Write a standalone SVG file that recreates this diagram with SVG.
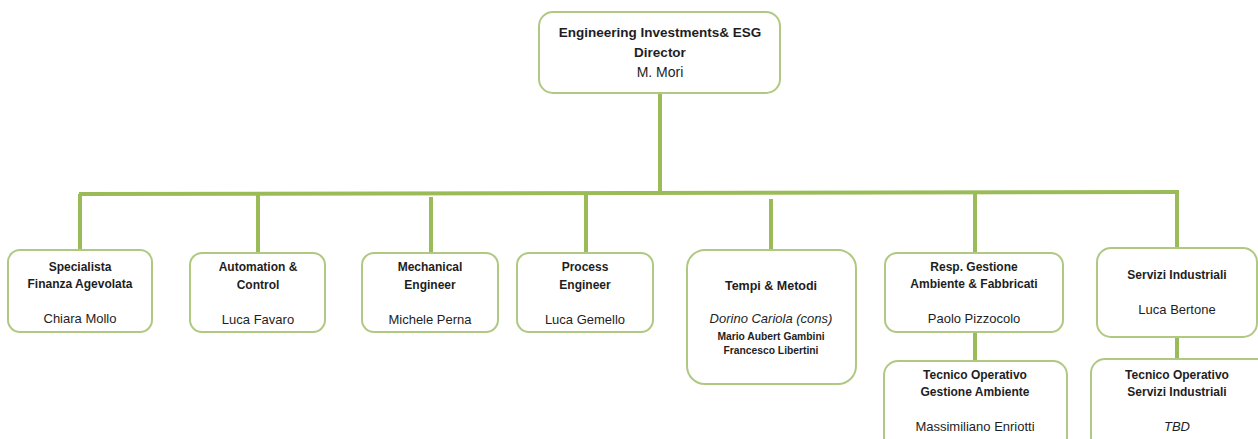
<svg xmlns="http://www.w3.org/2000/svg" width="1258" height="439" viewBox="0 0 1258 439">
<style>
.box{fill:#ffffff;stroke:#B0C982;stroke-width:2}
.ln{stroke:#9BBB59;stroke-width:4;fill:none}
text{font-family:"Liberation Sans",Arial,sans-serif;fill:#1e1e1e;text-anchor:middle}
.t{font-size:12px;font-weight:bold}
.n{font-size:13px}
.top{font-size:13.5px;font-weight:bold}
.s{font-size:10.3px;font-weight:bold}
.i{font-style:italic}
</style>
<rect width="1258" height="439" fill="#ffffff"/>
<g id="connectors">
<line class="ln" x1="660" y1="93" x2="660" y2="193"/>
<line class="ln" x1="79" y1="194" x2="1179" y2="192"/>
<line class="ln" x1="80" y1="194" x2="80" y2="251"/>
<line class="ln" x1="258" y1="194" x2="258" y2="253"/>
<line class="ln" x1="431" y1="197" x2="431" y2="253"/>
<line class="ln" x1="586" y1="194" x2="586" y2="253"/>
<line class="ln" x1="771" y1="199" x2="771" y2="251"/>
<line class="ln" x1="975" y1="193" x2="975" y2="253"/>
<line class="ln" x1="1177" y1="192" x2="1177" y2="248"/>
<line class="ln" x1="975" y1="332" x2="975" y2="361"/>
<line class="ln" x1="1177" y1="337" x2="1177" y2="359"/>
</g>
<g id="director">
<rect class="box" x="539" y="12" width="241" height="81" rx="14"/>
<text class="top" x="660" y="37">Engineering Investments&amp; ESG</text>
<text class="top" x="660" y="57">Director</text>
<text class="n" x="660" y="77" style="font-size:14px">M. Mori</text>
</g>
<g id="specialista">
<rect class="box" x="8" y="250" width="144" height="82" rx="12"/>
<text class="t" x="80" y="271">Specialista</text>
<text class="t" x="80" y="288">Finanza Agevolata</text>
<text class="n" x="80" y="323">Chiara Mollo</text>
</g>
<g id="automation">
<rect class="box" x="190" y="253" width="135" height="79" rx="12"/>
<text class="t" x="258" y="271">Automation &amp;</text>
<text class="t" x="258" y="289">Control</text>
<text class="n" x="258" y="324">Luca Favaro</text>
</g>
<g id="mechanical">
<rect class="box" x="362" y="253" width="136" height="79" rx="12"/>
<text class="t" x="430" y="271">Mechanical</text>
<text class="t" x="430" y="289">Engineer</text>
<text class="n" x="430" y="324">Michele Perna</text>
</g>
<g id="process">
<rect class="box" x="517" y="253" width="136" height="79" rx="12"/>
<text class="t" x="585" y="271">Process</text>
<text class="t" x="585" y="289">Engineer</text>
<text class="n" x="585" y="324">Luca Gemello</text>
</g>
<g id="tempi">
<rect class="box" x="687" y="250" width="169" height="134" rx="18"/>
<text class="t" x="771" y="290" style="font-size:12.5px">Tempi &amp; Metodi</text>
<text class="n i" x="771" y="323">Dorino Cariola (cons)</text>
<text class="s" x="771" y="340">Mario Aubert Gambini</text>
<text class="s" x="771" y="354">Francesco Libertini</text>
</g>
<g id="resp-gestione">
<rect class="box" x="885" y="253" width="178" height="79" rx="12"/>
<text class="t" x="974" y="271">Resp. Gestione</text>
<text class="t" x="974" y="288">Ambiente &amp; Fabbricati</text>
<text class="n" x="974" y="323">Paolo Pizzocolo</text>
</g>
<g id="servizi">
<rect class="box" x="1097" y="248" width="160" height="89" rx="14"/>
<text class="t" x="1177" y="279">Servizi Industriali</text>
<text class="n" x="1177" y="314">Luca Bertone</text>
</g>
<g id="tecnico-ambiente">
<rect class="box" x="884" y="361" width="183" height="90" rx="14"/>
<text class="t" x="975" y="379">Tecnico Operativo</text>
<text class="t" x="975" y="396">Gestione Ambiente</text>
<text class="n" x="975" y="431">Massimiliano Enriotti</text>
</g>
<g id="tecnico-servizi">
<rect class="box" x="1091" y="359" width="180" height="92" rx="14"/>
<text class="t" x="1177" y="379">Tecnico Operativo</text>
<text class="t" x="1177" y="396">Servizi Industriali</text>
<text class="n i" x="1177" y="431">TBD</text>
</g>
</svg>
